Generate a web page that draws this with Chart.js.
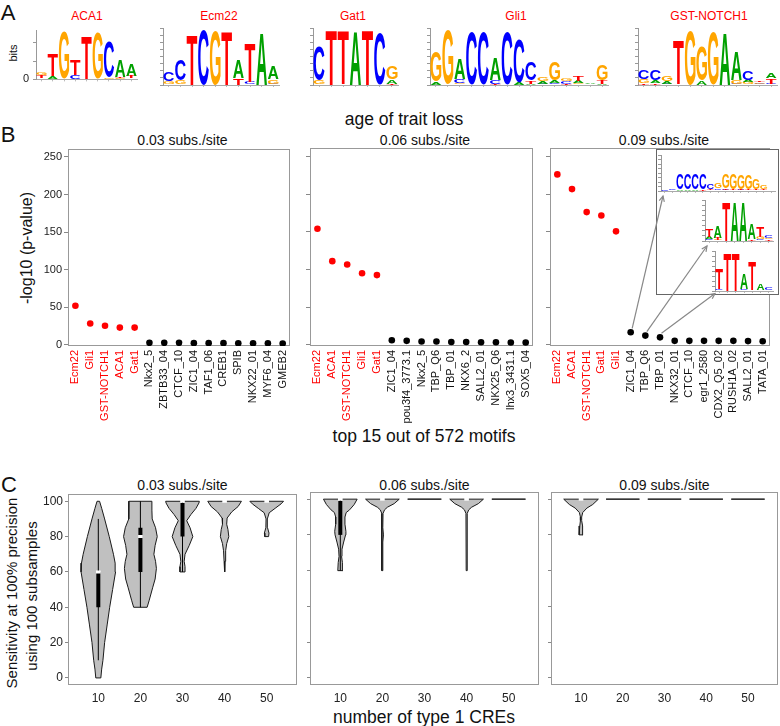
<!DOCTYPE html>
<html><head><meta charset="utf-8">
<script src="https://cdn.jsdelivr.net/npm/chart.js@4.4.1/dist/chart.umd.min.js"></script>
<style>
html,body{margin:0;padding:0;background:#fff;}
#fig{position:relative;width:780px;height:726px;overflow:hidden;font-family:"Liberation Sans",Arial,sans-serif;color:#111;background:#fff;}
#fig canvas{position:absolute;}
.t{position:absolute;white-space:nowrap;transform:translate(-50%,-50%);line-height:1;font-family:"Liberation Sans",Arial,"DejaVu Sans",sans-serif;}
.r{transform:translate(-50%,-50%) rotate(-90deg);}
</style></head><body><div id="fig"></div>
<script>
// ================= DATA =================
// Panel A: sequence logos, columns of [letter, bits] from bottom to top
const logoACA1 = [
  [['A',0.04],['T',0.12],['G',0.1]],
  [['G',0.03],['A',0.12],['T',0.9]],
  [['A',0.03],['G',1.95]],
  [['C',0.2],['T',0.62]],
  [['T',1.76]],
  [['A',0.03],['G',1.9]],
  [['G',0.06],['C',1.45]],
  [['G',0.05],['T',0.05],['A',0.66]],
  [['C',0.04],['T',0.08],['A',0.5]]
];
const logoEcm22 = [
  [['T',0.03],['G',0.1],['C',0.3]],
  [['T',0.03],['G',0.12],['C',0.75]],
  [['T',1.75]],
  [['C',1.94]],
  [['G',1.92]],
  [['T',1.88]],
  [['T',0.25],['A',0.63]],
  [['C',0.12],['T',1.35]],
  [['A',1.82]],
  [['C',0.05],['G',0.15],['A',0.45]]
];
const logoGat1 = [
  [['G',0.15],['C',1.2]],
  [['T',1.94]],
  [['A',0.03],['T',1.85]],
  [['A',1.88]],
  [['T',1.94]],
  [['C',1.82]],
  [['T',0.05],['A',0.15],['G',0.45]]
];
const logoGli1 = [
  [['A',0.12],['G',1.05]],
  [['T',0.03],['G',1.9]],
  [['G',0.08],['C',0.12],['A',0.74]],
  [['C',1.88]],
  [['C',1.88]],
  [['T',0.05],['C',0.12],['A',0.75]],
  [['C',1.88]],
  [['A',0.1],['C',1.5]],
  [['A',0.05],['T',0.1],['C',0.65]],
  [['C',0.05],['A',0.08],['G',0.12]],
  [['C',0.08],['A',0.08],['G',0.66]],
  [['T',0.05],['C',0.08],['G',0.1]],
  [['G',0.08],['A',0.07],['T',0.2]],
  [['C',0.03],['A',0.03]],
  [['A',0.05],['T',0.12],['G',0.53]]
];
const logoGSTNOTCH1 = [
  [['T',0.08],['G',0.12],['C',0.33]],
  [['T',0.08],['A',0.1],['C',0.35]],
  [['C',0.05],['A',0.1],['G',0.2]],
  [['C',0.03],['T',1.56]],
  [['G',1.9]],
  [['A',0.15],['G',1.2]],
  [['G',1.88]],
  [['A',1.82]],
  [['C',0.04],['G',0.12],['A',1.0]],
  [['G',0.1],['A',0.07],['C',0.3]],
  [['C',0.04],['G',0.05],['T',0.06]],
  [['C',0.04],['T',0.2],['A',0.2]]
];
// inset logos of panel B (0.09 subs./site)
const logoZIC1_04 = [
  [['T',0.02],['C',0.03]],
  [['G',0.03],['C',0.03]],
  [['A',0.1],['C',0.85]],
  [['A',0.1],['C',0.9]],
  [['A',0.1],['C',0.9]],
  [['T',0.1],['C',0.9]],
  [['A',0.05],['T',0.05],['C',0.25]],
  [['A',0.05],['C',0.1],['G',0.25]],
  [['C',0.08],['T',0.05],['G',0.8]],
  [['A',0.05],['T',0.05],['G',0.85]],
  [['C',0.08],['T',0.04],['G',0.8]],
  [['A',0.05],['T',0.05],['G',0.8]],
  [['C',0.05],['T',0.05],['G',0.55]],
  [['A',0.05],['T',0.05],['G',0.22]],
  [['C',0.02]]
];
const logoTBP_Q6 = [
  [['C',0.08],['A',0.1],['T',0.4]],
  [['G',0.05],['T',0.1],['A',0.55]],
  [['T',1.95]],
  [['A',1.95]],
  [['A',1.92]],
  [['T',0.1],['A',0.75]],
  [['C',0.1],['G',0.1],['T',0.5]],
  [['T',0.08],['G',0.07],['C',0.15]]
];
const logoTBP_01 = [
  [['C',0.08],['T',1.0]],
  [['T',1.92]],
  [['T',1.92]],
  [['C',0.08],['A',0.75]],
  [['A',0.05],['T',1.45]],
  [['C',0.05],['A',0.35]],
  [['A',0.05],['C',0.1]]
];
const bitTicks = [0,0.25,0.5,0.75,1,1.25,1.5,1.75,2];

// Panel B: top 15 motifs and -log10(p-value)
const motifs003 = ['Ecm22','Gli1','GST-NOTCH1','ACA1','Gat1','Nkx2_5','ZBTB33_04','CTCF_10','ZIC1_04','TAF1_06','CREB1','SPIB','NKX22_01','MYF6_04','GMEB2'];
const pval003 = [52, 28.5, 25.5, 23, 23, 2.7, 2.7, 2.7, 2.3, 2.3, 2.3, 2.0, 2.0, 2.0, 1.8];
const motifs006 = ['Ecm22','ACA1','GST-NOTCH1','Gli1','Gat1','ZIC1_04','pou3f4_3773.1','Nkx2_5','TBP_Q6','TBP_01','NKX6_2','SALL2_01','NKX25_Q6','lhx3_3431.1','SOX5_04'];
const pval006 = [154, 111, 106.5, 95, 92.5, 6.1, 5.3, 4.4, 4.4, 3.9, 3.9, 3.5, 3.5, 3.1, 3.1];
const motifs009 = ['Ecm22','ACA1','GST-NOTCH1','Gat1','Gli1','ZIC1_04','TBP_Q6','TBP_01','NKX32_01','CTCF_10','egr1_2580','CDX2_Q5_02','RUSH1A_02','SALL2_01','TATA_01'];
const pval009 = [226, 206.5, 176, 171.5, 150.5, 16.7, 12.3, 10, 5.3, 5.3, 5.3, 5.3, 5.3, 5.0, 4.8];
const nRed = 5;
const yTicksB = [0, 50, 100, 150, 200, 250];

// Panel C: violins of sensitivity, [sensitivity, half-width] bottom to top
const creCounts = [10, 20, 30, 40, 50];
const vio003_10 = [[0,0.6],[5,0.8],[10,1.1],[20,1.5],[30,2.1],[40,2.7],[50,3.4],[60,4.1],[65,4.0],[70,3.6],[80,2.6],[90,1.5],[96,0.8],[100,0.3]];
const vio003_20 = [[40,1.6],[44,2.1],[51,2.9],[56,3.5],[62,3.8],[66,3.6],[70,3.2],[75,3.5],[80,4.0],[85,3.6],[90,2.8],[95,2.73],[100,2.73]];
const vio003_30 = [[60,0.6],[63,0.6],[66,0.4],[70,0.6],[75,1.6],[80,2.45],[85,1.8],[89,1.0],[92.5,2.0],[96,3.2],[99,3.9],[100,4.0]];
const vio003_40 = [[60,0.08],[66,0.12],[72,0.25],[76,0.5],[80,1.0],[84,0.8],[87,0.5],[90.5,0.6],[94,1.7],[97,3.2],[100,4.0]];
const vio003_50 = [[80,0.45],[82,0.55],[85,0.2],[90,0.15],[93.5,0.6],[96,2.0],[98.5,3.4],[100,4.0]];
const vio006_10 = [[60,0.6],[64.5,0.5],[68,0.3],[72,0.4],[76,0.8],[80,1.25],[82,1.33],[86,1.1],[90,1.1],[92.5,1.4],[94,2.2],[97,3.3],[100,4.0]];
const vio006_20 = [[60,0.1],[76,0.1],[80,0.25],[84,0.1],[92,0.15],[94,0.5],[95.5,1.2],[97.5,2.8],[100,4.0]];
const vio006_30 = [[100,4.0]];
const vio006_40 = [[60,0.1],[92,0.15],[94,0.5],[95.5,1.2],[97.5,2.8],[100,4.0]];
const vio006_50 = [[100,4.0]];
const vio009_10 = [[80,0.45],[82,0.45],[85,0.3],[88,0.15],[90,0.15],[92.5,0.4],[95,1.4],[97,2.8],[100,4.15]];
const vio009_20 = [[100,4.0]];
const vio009_30 = [[100,4.0]];
const vio009_40 = [[100,4.0]];
const vio009_50 = [[100,4.0]];
// box summaries [q1, q3, median, whiskerLow, whiskerHigh]
const box003 = [[40,60,60,10,90],[60,85,80,40,100],[80,99,100,60,100],[100,100,100,100,100],[100,100,100,100,100]];
const box006 = [[80,99,100,60,100],[100,100,100,100,100],null,[100,100,100,100,100],null];
const box009 = [[100,100,100,100,100],null,null,null,null];
const yTicksC = [0, 20, 40, 60, 80, 100];

// ================= RENDER =================
const FONT = '"Liberation Sans", Arial, sans-serif';
Chart.defaults.font.family = FONT;
Chart.defaults.color = '#222';
Chart.defaults.animation = false;
Chart.defaults.plugins.legend.display = false;
Chart.defaults.plugins.tooltip.enabled = false;

const fig = document.getElementById('fig');
function addCanvas(left, top, w, h) {
  const c = document.createElement('canvas');
  c.width = w; c.height = h;
  c.style.left = left + 'px'; c.style.top = top + 'px';
  c.style.width = w + 'px'; c.style.height = h + 'px';
  fig.appendChild(c);
  return c;
}
function addText(txt, x, y, size, opts) {
  opts = opts || {};
  const d = document.createElement('div');
  d.className = 't' + (opts.rot ? ' r' : '');
  d.textContent = txt;
  d.style.left = x + 'px'; d.style.top = y + 'px'; d.style.fontSize = size + 'px';
  if (opts.color) d.style.color = opts.color;
  fig.appendChild(d);
}

const framePlugin = {
  id: 'frame',
  beforeDatasetsDraw(chart) {
    const o = chart.options.plugins.frame;
    if (!o || !o.color) return;
    const {ctx, chartArea: a} = chart;
    ctx.save();
    ctx.strokeStyle = o.color; ctx.lineWidth = 1;
    ctx.strokeRect(Math.round(a.left) + 0.5, Math.round(a.top) + 0.5, Math.round(a.width) - 1, Math.round(a.height) - 1);
    ctx.restore();
  }
};

const letterColors = {A: '#00a000', C: '#0000ff', G: '#ffa500', T: '#ff0000'};
const LOGO_FONT = 'bold 100px "Liberation Sans", Arial, sans-serif';
const logoPlugin = {
  id: 'logoLetters',
  afterDatasetsDraw(chart) {
    const ctx = chart.ctx;
    chart.data.datasets.forEach((ds, i) => {
      const meta = chart.getDatasetMeta(i);
      meta.data.forEach((bar, j) => {
        const ch = ds.letters[j];
        if (!ch) return;
        const p = bar.getProps(['x', 'y', 'base', 'width'], true);
        const h = p.base - p.y;
        if (h < 0.4) return;
        ctx.save();
        ctx.font = LOGO_FONT;
        ctx.textAlign = 'left'; ctx.textBaseline = 'alphabetic';
        const m = ctx.measureText(ch);
        const gl = m.actualBoundingBoxLeft, gr = m.actualBoundingBoxRight;
        const ga = m.actualBoundingBoxAscent, gd = m.actualBoundingBoxDescent;
        ctx.translate(p.x - p.width / 2, p.base);
        ctx.scale(p.width / (gl + gr), h / (ga + gd));
        ctx.fillStyle = letterColors[ch];
        ctx.fillText(ch, gl, -gd);
        ctx.restore();
      });
    });
  }
};

function logoChart(cols, left, top, w, h, yWidth, padTop, xHeight, padRight, showLabels) {
  const canvas = addCanvas(left, top, w, h);
  const nLayers = Math.max(...cols.map(c => c.length));
  const datasets = [];
  for (let k = 0; k < nLayers; k++) {
    datasets.push({
      data: cols.map(c => c[k] ? c[k][1] : 0),
      letters: cols.map(c => c[k] ? c[k][0] : ''),
      backgroundColor: 'rgba(0,0,0,0)', borderWidth: 0,
      barPercentage: 1, categoryPercentage: 0.92
    });
  }
  return new Chart(canvas, {
    type: 'bar',
    data: {labels: cols.map((c, i) => String(i + 1)), datasets},
    options: {
      responsive: false, animation: false,
      layout: {padding: {top: padTop, right: padRight, left: 0, bottom: 0}},
      scales: {
        x: {stacked: true, grid: {display: true, drawOnChartArea: false, tickLength: 2, color: '#bbb', offset: false},
            border: {color: '#aaa'}, ticks: {display: false}, afterFit: s => { s.height = xHeight; }},
        y: {stacked: true, min: 0, max: 2,
            afterBuildTicks: s => { s.ticks = bitTicks.map(v => ({value: v})); },
            grid: {drawOnChartArea: false, tickLength: 3, color: '#999'}, border: {color: '#999'},
            ticks: {display: showLabels, font: {size: 11}, padding: 4, color: '#222',
                    callback: v => Number.isInteger(v) ? String(v) : ''},
            afterFit: s => { s.width = yWidth; }}
      },
      plugins: {legend: {display: false}, tooltip: {enabled: false}}
    },
    plugins: [logoPlugin]
  });
}

function motifChart(left, top, w, h, labels, values, yWidth, padRight, showY, extraPlugins) {
  const canvas = addCanvas(left, top, w, h);
  return new Chart(canvas, {
    type: 'line',
    data: {labels, datasets: [{
      data: values, showLine: false, pointRadius: 3.3, pointHoverRadius: 3.3, pointBorderWidth: 0,
      pointBackgroundColor: labels.map((l, i) => i < nRed ? '#ff0000' : '#000000'),
      pointBorderColor: 'rgba(0,0,0,0)'
    }]},
    options: {
      responsive: false, animation: false,
      layout: {padding: {top: 8, right: padRight, left: 0, bottom: 0}},
      scales: {
        x: {type: 'category', offset: true,
            grid: {display: false, drawTicks: false}, border: {display: false},
            ticks: {autoSkip: false, minRotation: 90, maxRotation: 90, padding: 4, font: {size: 11},
                    color: c => c.index < nRed ? '#ff0000' : '#111'},
            afterFit: s => { s.height = 114; }},
        y: {min: -1.5, max: 261,
            afterBuildTicks: s => { s.ticks = yTicksB.map(v => ({value: v})); },
            grid: {drawOnChartArea: false, tickLength: 4, color: '#888'}, border: {display: false},
            ticks: {display: showY, font: {size: 11}, padding: 2, color: '#222'},
            afterFit: s => { s.width = yWidth; }}
      },
      plugins: {legend: {display: false}, tooltip: {enabled: false}, frame: {color: '#999'}}
    },
    plugins: [framePlugin].concat(extraPlugins || [])
  });
}

function creChart(left, top, w, h, vios, boxes, yWidth, padRight, showY) {
  const canvas = addCanvas(left, top, w, h);
  const datasets = [];
  vios.forEach((prof, i) => {
    const c = creCounts[i];
    const right = prof.map(([y, hw]) => ({x: c + hw, y}));
    const leftSide = prof.slice().reverse().map(([y, hw]) => ({x: c - hw, y}));
    datasets.push({data: right.concat(leftSide, [right[0]]), borderColor: '#1a1a1a', borderWidth: 1,
      backgroundColor: '#c0c0c0', fill: 'shape', pointRadius: 0, tension: 0, order: 3});
    const b = boxes[i];
    if (b) {
      const [q1, q3, med, lo, hi] = b;
      if (hi > lo) datasets.push({data: [{x: c, y: lo}, {x: c, y: hi}], borderColor: '#000', borderWidth: 1, pointRadius: 0, fill: false, order: 2});
      if (q3 > q1) datasets.push({data: [{x: c, y: q1}, {x: c, y: q3}], borderColor: '#000', borderWidth: 4, borderCapStyle: 'butt', pointRadius: 0, fill: false, order: 1});
      datasets.push({data: [{x: c - 0.55, y: med}, {x: c + 0.55, y: med}], borderColor: '#fff', borderWidth: 3, borderCapStyle: 'butt', pointRadius: 0, fill: false, order: 0});
    }
  });
  return new Chart(canvas, {
    type: 'line',
    data: {datasets},
    options: {
      responsive: false, animation: false,
      layout: {padding: {top: 7, right: padRight, left: 0, bottom: 0}},
      scales: {
        x: {type: 'linear', min: 2.8, max: 57.2,
            afterBuildTicks: s => { s.ticks = creCounts.map(v => ({value: v})); },
            grid: {display: false, drawTicks: false}, border: {display: false},
            ticks: {font: {size: 12}, padding: 6, color: '#222'},
            afterFit: s => { s.height = 41; }},
        y: {type: 'linear', min: -4, max: 104,
            afterBuildTicks: s => { s.ticks = yTicksC.map(v => ({value: v})); },
            grid: {drawOnChartArea: false, tickLength: 3, color: '#888'}, border: {display: false},
            ticks: {display: showY, font: {size: 12}, padding: 2, color: '#222'},
            afterFit: s => { s.width = yWidth; }}
      },
      plugins: {legend: {display: false}, tooltip: {enabled: false}, frame: {color: '#999'}}
    },
    plugins: [framePlugin]
  });
}

// ---------- text ----------
addText('A', 8, 13, 22);
addText('B', 8, 135, 22);
addText('C', 9, 485, 22);
addText('ACA1', 87, 16, 12, {color: '#ff0000'});
addText('Ecm22', 219, 16, 12, {color: '#ff0000'});
addText('Gat1', 353, 16, 12, {color: '#ff0000'});
addText('Gli1', 516, 16, 12, {color: '#ff0000'});
addText('GST-NOTCH1', 709, 16, 12, {color: '#ff0000'});
addText('bits', 13, 53, 11, {rot: true});
addText('age of trait loss', 404, 120, 17.5);
addText('0.03 subs./site', 182.5, 140, 14);
addText('0.06 subs./site', 425, 140, 14);
addText('0.09 subs./site', 664, 140, 14);
addText('top 15 out of 572 motifs', 424, 437, 17.5);
addText('-log10 (p-value)', 27, 248, 16, {rot: true});
addText('0.03 subs./site', 182.5, 484.5, 14);
addText('0.06 subs./site', 424.5, 484.5, 14);
addText('0.09 subs./site', 664.5, 484.5, 14);
addText('number of type 1 CREs', 424, 718, 17.5);
addText('Sensitivity at 100% precision', 11, 593, 15, {rot: true});
addText('using 100 subsamples', 31, 596, 15, {rot: true});

// ---------- panel A ----------
logoChart(logoACA1, 0, 20, 140, 70, 36, 8, 5, 3, true);
logoChart(logoEcm22, 150, 20, 132, 70, 13, 8, 5, 3, false);
logoChart(logoGat1, 300, 20, 101, 70, 13, 8, 5, 3, false);
logoChart(logoGli1, 417, 20, 194, 70, 13, 8, 5, 3, false);
logoChart(logoGSTNOTCH1, 625, 20, 155, 70, 13, 8, 5, 3, false);

// ---------- panel B ----------
const B3_LEFT = 540, B3_TOP = 140;
const INSET_BOX = {left: 656.5, top: 149.5, right: 778.5, bottom: 294.5};
// inset logo placement (page px): canvas left, top, width, height, axis width, pad top, x height, pad right
const insetLayout = [
  [655, 150, 123, 45, 6, 5, 4, 3],
  [699, 196, 78, 48, 6, 4, 3, 4],
  [709, 248, 68, 46, 6, 3, 3, 4]
];
const arrowFrom = [5, 6, 7]; // indices of ZIC1_04, TBP_Q6, TBP_01
const insetPlugin = {
  id: 'inset',
  afterDatasetsDraw(chart) {
    const ctx = chart.ctx;
    ctx.save();
    ctx.fillStyle = '#fff';
    ctx.strokeStyle = '#666'; ctx.lineWidth = 1;
    const bx = INSET_BOX.left - B3_LEFT, by = INSET_BOX.top - B3_TOP;
    const bw = INSET_BOX.right - INSET_BOX.left, bh = INSET_BOX.bottom - INSET_BOX.top;
    ctx.fillRect(bx, by, bw, bh);
    ctx.strokeRect(bx, by, bw, bh);
    const meta = chart.getDatasetMeta(0);
    ctx.strokeStyle = '#888'; ctx.lineWidth = 1.2;
    arrowFrom.forEach((idx, k) => {
      const pt = meta.data[idx];
      const L = insetLayout[k];
      const x0 = pt.x + 1.5, y0 = pt.y - 4;
      const baseY = L[1] + L[3] - L[6];
      let x1 = L[0] + L[4] + 2 - B3_LEFT, y1 = baseY + 5 - B3_TOP;
      if (k === 2) { y1 = INSET_BOX.bottom - 1 - B3_TOP; x1 = L[0] + L[4] - B3_LEFT; }
      ctx.beginPath(); ctx.moveTo(x0, y0); ctx.lineTo(x1, y1); ctx.stroke();
      const ang = Math.atan2(y1 - y0, x1 - x0), hl = 6, ha = 0.45;
      ctx.beginPath();
      ctx.moveTo(x1 - hl * Math.cos(ang - ha), y1 - hl * Math.sin(ang - ha));
      ctx.lineTo(x1, y1);
      ctx.lineTo(x1 - hl * Math.cos(ang + ha), y1 - hl * Math.sin(ang + ha));
      ctx.stroke();
    });
    ctx.restore();
  }
};
motifChart(0, 140, 300, 320, motifs003, pval003, 68, 3, true);
motifChart(300, 140, 243, 320, motifs006, pval006, 10, 3, false);
motifChart(B3_LEFT, B3_TOP, 240, 320, motifs009, pval009, 10, 2, false, [insetPlugin]);
[logoZIC1_04, logoTBP_Q6, logoTBP_01].forEach((cols, k) => {
  const L = insetLayout[k];
  logoChart(cols, L[0], L[1], L[2], L[3], L[4], L[5], L[6], L[7], false);
});

// ---------- panel C ----------
creChart(0, 485, 300, 241, [vio003_10, vio003_20, vio003_30, vio003_40, vio003_50], box003, 68, 3, true);
creChart(300, 485, 242, 241, [vio006_10, vio006_20, vio006_30, vio006_40, vio006_50], box006, 10, 3, false);
creChart(541, 485, 239, 241, [vio009_10, vio009_20, vio009_30, vio009_40, vio009_50], box009, 10, 2, false);
</script>
</body></html>
